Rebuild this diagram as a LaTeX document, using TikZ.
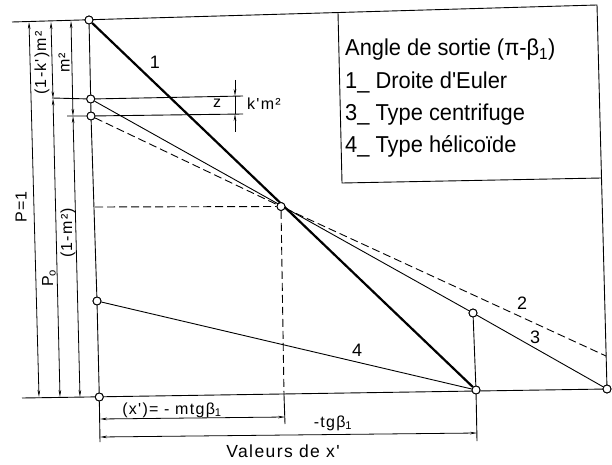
\documentclass[tikz,border=0pt]{standalone}
\usepackage{fontspec}
\setmainfont{Liberation Sans}
\newfontfamily\lgfont{Liberation Sans}[FakeStretch=0.95]
\newfontfamily\lbfont{Liberation Sans}[LetterSpace=8]
\usetikzlibrary{arrows.meta}
\begin{document}
\begin{tikzpicture}[x=1pt,y=-1pt,
  thinl/.style={line width=0.9pt},
  thickl/.style={line width=2.2pt},
  dashl/.style={line width=0.9pt,dash pattern=on 8pt off 4pt},
  dimline/.style={line width=0.8pt,{Stealth[length=7pt,width=2.6pt]}-{Stealth[length=7pt,width=2.6pt]}},
  pt/.style={circle,draw,fill=white,line width=0.9pt,inner sep=0pt,minimum size=8pt},
  lg/.style={anchor=base west,inner sep=0pt,font=\lgfont\fontsize{23}{25}\selectfont},
  lb/.style={inner sep=0pt,font=\lbfont\fontsize{16}{18}\selectfont},
  num/.style={inner sep=0pt,font=\lbfont\fontsize{18}{20}\selectfont}]
\useasboundingbox (0,0) rectangle (612,465);
% coordinates
\coordinate (TL) at (12,22);
\coordinate (TR) at (597,5);
\coordinate (BL) at (22,398);
\coordinate (BR) at (607,389);
\coordinate (LT) at (338,12.5);
\coordinate (LB) at (342,183);
\coordinate (RB) at (601.5,178);
\coordinate (R2) at (606,356);
\coordinate (Bl) at (52,98);
\coordinate (Br) at (243,96);
\coordinate (Cl) at (67,116);
\coordinate (Cr) at (243,114);
\coordinate (Ph) at (95,207);
\coordinate (Pb) at (284,395);
\coordinate (Pe) at (285,424);
\coordinate (Oe) at (100,442);
\coordinate (Ee) at (477,441);
% dimension line ends
\coordinate (d1t) at (29,22);
\coordinate (d1b) at (39,397);
\coordinate (d2t) at (51,22);
\coordinate (d2m) at (53,98.5);
\coordinate (d2b) at (60,397);
\coordinate (d3t) at (71,21);
\coordinate (d3m) at (73,116);
\coordinate (d3b) at (80,397);
\coordinate (x1l) at (100,419);
\coordinate (x1r) at (285,417);
\coordinate (x2l) at (100,437);
\coordinate (x2r) at (477,433);
\coordinate (kt) at (235,80);
\coordinate (kb) at (235,96);
\coordinate (kc) at (235,114);
\coordinate (kd) at (235,132);
% frame
\draw[thinl] (TL) -- (TR) -- (BR) -- (BL);
\draw[thinl] (LT) -- (LB) -- (RB);
% points
\node[pt] (A) at (89,20) {};
\node[pt] (B) at (90.7,99) {};
\node[pt] (C) at (91,116) {};
\node[pt] (D) at (97,301) {};
\node[pt] (O) at (99.3,397) {};
\node[pt] (P) at (281,206.5) {};
\node[pt] (E) at (476,390) {};
\node[pt] (F) at (473,313) {};
\node[pt] (G) at (607,389) {};
% horizontals at B and C
\draw[thinl] (Bl) -- (B) -- (Br);
\draw[thinl] (Cl) -- (C) -- (Cr);
% main vertical
\draw[thinl] (A) -- (B) -- (C) -- (D) -- (O) -- (Oe);
% lines
\draw[thickl] (A) -- (E);
\draw[thinl] (B) -- (F) -- (G);
\draw[dashl] (C) -- (P) -- (R2);
\draw[thinl] (D) -- (E);
\draw[thinl] (F) -- (E) -- (Ee);
\draw[dashl] (Ph) -- (P) -- (Pb);
\draw[thinl] (Pb) -- (Pe);
% redraw points on top
\foreach \n in {A,B,C,D,O,P,E,F,G} \node[pt] at (\n) {};
% left dimensions
\draw[dimline] (d1t) -- (d1b);
\draw[dimline] (d2t) -- (d2m);
\draw[dimline] (d2m) -- (d2b);
\draw[dimline] (d3t) -- (d3m);
\draw[dimline] (d3m) -- (d3b);
% k'm2 dimension
\draw[thinl,-{Stealth[length=7pt,width=2.6pt]}] (kt) -- (kb);
\draw[thinl] (kb) -- (kc);
\draw[thinl,-{Stealth[length=7pt,width=2.6pt]}] (kd) -- (kc);
% bottom dimensions
\draw[dimline] (x1l) -- (x1r);
\draw[dimline] (x2l) -- (x2r);
% labels
\node[lb,rotate=90] (lP) at (21,207) {P=1};
\node[lb,rotate=90] (lk) at (42,63) {(1-k')m²};
\node[lb,rotate=90] (lm) at (64,63) {m²};
\node[lb,rotate=90] (lP0) at (49,278) {P\textsubscript{o}};
\node[lb,rotate=90] (l1m) at (68,233) {(1-m²)};
\node[lb] (lz) at (217,103) {z};
\node[lb,anchor=west] (lkm) at (247,104) {k'm²};
\node[num] (n1) at (155,62) {1};
\node[num] (n2) at (522,303) {2};
\node[num] (n3) at (535,337) {3};
\node[num] (n4) at (357,350) {4};
\node[lb,anchor=base] (lx) at (172,414) {(x')= - mtgβ\textsubscript{1}};
\node[lb,anchor=base] (lt) at (333,427) {-tgβ\textsubscript{1}};
\node[lb,anchor=base,font=\lbfont\fontsize{17.5}{20}\selectfont] (lv) at (283,457) {Valeurs de x'};
% legend
\node[lg] (g0) at (345,56) {Angle de sortie (π-β\textsubscript{1})};
\node[lg] (g1) at (345,89) {1\_ Droite d'Euler};
\node[lg] (g2) at (345,121) {3\_ Type centrifuge};
\node[lg] (g3) at (345,153) {4\_ Type hélicoïde};
\end{tikzpicture}
\end{document}
